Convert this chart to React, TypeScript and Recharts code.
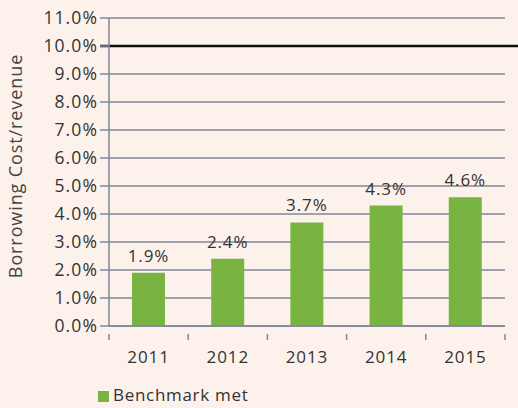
import { BarChart, Bar, XAxis, YAxis, CartesianGrid, ReferenceLine, LabelList, Legend } from 'recharts'

const years = ['2011', '2012', '2013', '2014', '2015']
const costRatio = [1.9, 2.4, 3.7, 4.3, 4.6]
const yTicks = [0, 1, 2, 3, 4, 5, 6, 7, 8, 9, 10, 11]
const benchmark = 10
const seriesName = 'Benchmark met'

const BG = '#fcf2eb'
const GRID = '#80869a'
const TEXT = '#333333'
const GREEN = '#79b443'
const FONT = '"Open Sans", "Noto Sans", sans-serif'

const data = years.map((year, i) => ({ year, value: costRatio[i] }))

function YearTick(props: any) {
  const { x, y, payload, index } = props
  const half = payload.offset || 0
  const last = index === years.length - 1
  return (
    <g>
      <line x1={x - half} y1={y} x2={x - half} y2={y + 6} stroke={GRID} strokeWidth={1.5} />
      {last && <line x1={x + half} y1={y} x2={x + half} y2={y + 6} stroke={GRID} strokeWidth={1.5} />}
      <text x={x} y={y + 29} textAnchor="middle" fill={TEXT} fontSize={17} fontFamily={FONT} letterSpacing={0.9}>
        {payload.value}
      </text>
    </g>
  )
}

function BenchmarkLine(props: any) {
  const { x1, x2, y1 } = props
  return <line x1={x1 - 9} y1={y1} x2={x2 + 13} y2={y1} stroke="#111" strokeWidth={2.5} />
}

export default function App() {
  return (
    <div style={{ position: 'absolute', left: 0, top: 0, width: 518, height: 408, background: BG, fontFamily: FONT }}>
      <BarChart
        width={518}
        height={408}
        data={data}
        margin={{ top: 18, right: 13, left: 0, bottom: 19 }}
        barCategoryGap="29%"
      >
        <CartesianGrid vertical={false} stroke={GRID} strokeWidth={1.5} />
        <XAxis
          dataKey="year"
          height={40}
          axisLine={{ stroke: GRID, strokeWidth: 1.5 }}
          tickLine={false}
          tick={<YearTick />}
          interval={0}
        />
        <YAxis
          width={109}
          domain={[0, 11]}
          ticks={yTicks}
          interval={0}
          tickFormatter={(v: number) => `${v.toFixed(1)}%`}
          axisLine={{ stroke: GRID, strokeWidth: 1.5 }}
          tickLine={{ stroke: GRID, strokeWidth: 1.5 }}
          tickSize={9}
          tickMargin={2}
          tick={{ fill: TEXT, fontSize: 17.5, fontFamily: FONT, letterSpacing: 1.1 }}
          label={{
            value: 'Borrowing Cost/revenue',
            angle: -90,
            position: 'insideLeft',
            offset: 16,
            dy: -6,
            style: { fill: '#444', fontSize: 18, fontFamily: FONT, textAnchor: 'middle', letterSpacing: 0.9 },
          }}
        />
        <ReferenceLine y={benchmark} shape={<BenchmarkLine />} ifOverflow="visible" />
        <Legend
          verticalAlign="bottom"
          align="left"
          iconType="square"
          iconSize={11}
          wrapperStyle={{ left: 98, top: 383, fontSize: 17, color: TEXT, fontFamily: FONT }}
          formatter={(v: string) => <span style={{ color: TEXT, letterSpacing: 0.7 }}>{v}</span>}
        />
        <Bar dataKey="value" name={seriesName} fill={GREEN} isAnimationActive={false}>
          <LabelList
            dataKey="value"
            position="top"
            offset={11}
            formatter={(v: any) => `${Number(v).toFixed(1)}%`}
            style={{ fill: TEXT, fontSize: 17, fontFamily: FONT, letterSpacing: 0.9 }}
          />
        </Bar>
      </BarChart>
    </div>
  )
}
